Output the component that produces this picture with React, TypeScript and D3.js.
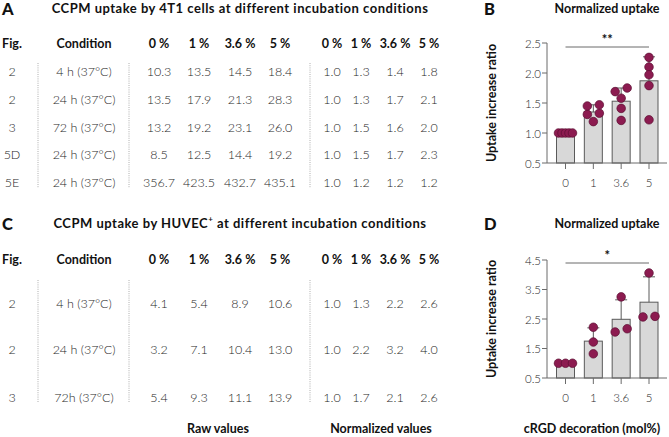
import React from "react";
import * as d3 from "d3";

// ---------- data ----------
const pctHeaders = ["0 %", "1 %", "3.6 %", "5 %"];

const tableAFig = ["2", "2", "3", "5D", "5E"];
const tableACond = ["4 h (37°C)", "24 h (37°C)", "72 h (37°C)", "24 h (37°C)", "24 h (37°C)"];
const tableARaw = [
  ["10.3", "13.5", "14.5", "18.4"],
  ["13.5", "17.9", "21.3", "28.3"],
  ["13.2", "19.2", "23.1", "26.0"],
  ["8.5", "12.5", "14.4", "19.2"],
  ["356.7", "423.5", "432.7", "435.1"],
];
const tableANorm = [
  ["1.0", "1.3", "1.4", "1.8"],
  ["1.0", "1.3", "1.7", "2.1"],
  ["1.0", "1.5", "1.6", "2.0"],
  ["1.0", "1.5", "1.7", "2.3"],
  ["1.0", "1.2", "1.2", "1.2"],
];

const tableCFig = ["2", "2", "3"];
const tableCCond = ["4 h (37°C)", "24 h (37°C)", "72h (37°C)"];
const tableCRaw = [
  ["4.1", "5.4", "8.9", "10.6"],
  ["3.2", "7.1", "10.4", "13.0"],
  ["5.4", "9.3", "11.1", "13.9"],
];
const tableCNorm = [
  ["1.0", "1.3", "2.2", "2.6"],
  ["1.0", "2.2", "3.2", "4.0"],
  ["1.0", "1.7", "2.1", "2.6"],
];

const categories = ["0", "1", "3.6", "5"];

const pointsB = [
  [1, 1, 1, 1, 1],
  [1.31, 1.33, 1.45, 1.47, 1.19],
  [1.41, 1.58, 1.75, 1.69, 1.21],
  [1.79, 2.1, 1.97, 2.26, 1.22],
];
const meansB = [1.0, 1.35, 1.53, 1.87];
const sdB = [0, 0.12, 0.22, 0.4];
const ticksB = [0.5, 1.0, 1.5, 2.0, 2.5];

const pointsD = [
  [1, 1, 1],
  [1.32, 2.22, 1.72],
  [2.17, 3.25, 2.06],
  [2.59, 4.06, 2.57],
];
const meansD = [1.0, 1.75, 2.49, 3.07];
const sdD = [0, 0.45, 0.66, 0.86];
const ticksD = [0.5, 1.5, 2.5, 3.5, 4.5];

// ---------- style ----------
const FONT = "Lato, 'Open Sans', sans-serif";
const TXT = "#1e1e1e";
const AXIS = "#6b6b6b";
const BAR_FILL = "#d8d8d8";
const BAR_STROKE = "#5a5a5a";
const DOT_FILL = "#8c1b50";
const DOT_STROKE = "#5c0e32";

// layout
const colFig = 12;
const colCond = 84;
const colRaw = [159, 199, 240, 280];
const colNorm = [332, 361, 395, 429];
const sepX = [38, 129, 310];

function Table({ headY, rowYs, figs, conds, raw, norm, sepTop, sepBottom }: any) {
  return (
    <g fontFamily={FONT}>
      <text x={colFig} y={headY} textAnchor="middle" fontWeight={700} fontSize={12.5} fill="#111" dominantBaseline="central">Fig.</text>
      <text x={colCond} y={headY} textAnchor="middle" fontWeight={700} fontSize={12.5} fill="#111" dominantBaseline="central">Condition</text>
      {pctHeaders.map((h, i) => (
        <text key={"r" + i} x={colRaw[i]} y={headY} textAnchor="middle" fontWeight={700} fontSize={12.5} fill="#111" dominantBaseline="central">{h}</text>
      ))}
      {pctHeaders.map((h, i) => (
        <text key={"n" + i} x={colNorm[i]} y={headY} textAnchor="middle" fontWeight={700} fontSize={12.5} fill="#111" dominantBaseline="central">{h}</text>
      ))}
      {sepX.map((x, i) => (
        <line key={i} x1={x} x2={x} y1={sepTop} y2={sepBottom} stroke="#9a9a9a" strokeWidth={0.8} strokeDasharray="1,1.2" />
      ))}
      {rowYs.map((y: number, r: number) => (
        <g key={r} fontSize={12.5} fill={TXT} fontWeight={300}>
          <text x={colFig} y={y} textAnchor="middle" dominantBaseline="central">{figs[r]}</text>
          <text x={colCond} y={y} textAnchor="middle" dominantBaseline="central">{conds[r]}</text>
          {raw[r].map((v: string, i: number) => (
            <text key={"r" + i} x={colRaw[i]} y={y} textAnchor="middle" dominantBaseline="central">{v}</text>
          ))}
          {norm[r].map((v: string, i: number) => (
            <text key={"n" + i} x={colNorm[i]} y={y} textAnchor="middle" dominantBaseline="central">{v}</text>
          ))}
        </g>
      ))}
    </g>
  );
}

function swarm(values: number[], y: (v: number) => number) {
  const idx = values.map((_, i) => i).sort((a, b) => values[a] - values[b]);
  const clusters: number[][] = [];
  idx.forEach((i) => {
    const last = clusters[clusters.length - 1];
    if (last && Math.abs(y(values[last[last.length - 1]]) - y(values[i])) < 6) last.push(i);
    else clusters.push([i]);
  });
  const off = new Array(values.length).fill(0);
  clusters.forEach((c) => {
    const n = c.length;
    const step = n > 1 ? Math.min(12, 14 / (n - 1)) : 0;
    c.forEach((i, k) => (off[i] = (k - (n - 1) / 2) * step));
  });
  return off;
}

function BarChart({ top, bottom, domain, ticks, points, means, sd, stars, sigY }: any) {
  const axisX = 547;
  const x = d3.scalePoint<string>().domain(categories).range([565.5, 649]);
  const y = d3.scaleLinear().domain(domain).range([bottom, top]);
  const bw = 18;
  const fmt = d3.format(".1f");
  return (
    <g fontFamily={FONT}>
      {categories.map((c, i) => (
        <rect key={c} x={x(c)! - bw / 2} y={y(means[i])} width={bw} height={bottom - y(means[i])} fill={BAR_FILL} stroke={BAR_STROKE} strokeWidth={1} />
      ))}
      {categories.map((c, i) =>
        sd[i] > 0 ? (
          <g key={"e" + c} stroke={BAR_STROKE} strokeWidth={1}>
            <line x1={x(c)} x2={x(c)} y1={y(means[i])} y2={y(means[i] + sd[i])} />
            <line x1={x(c)! - 6} x2={x(c)! + 6} y1={y(means[i] + sd[i])} y2={y(means[i] + sd[i])} />
          </g>
        ) : null
      )}
      <line x1={axisX} x2={axisX} y1={y(domain[1])} y2={bottom} stroke={AXIS} strokeWidth={1} />
      <line x1={axisX} x2={667} y1={bottom} y2={bottom} stroke={AXIS} strokeWidth={1} />
      {ticks.map((t: number) => (
        <g key={t}>
          <line x1={axisX - 5} x2={axisX} y1={y(t)} y2={y(t)} stroke={AXIS} strokeWidth={1} />
          <text x={axisX - 6} y={y(t)} textAnchor="end" dominantBaseline="central" fontSize={11.5} fill={TXT} fontWeight={300}>{fmt(t)}</text>
        </g>
      ))}
      {categories.map((c) => (
        <g key={"xt" + c}>
          <line x1={x(c)} x2={x(c)} y1={bottom} y2={bottom + 6} stroke={AXIS} strokeWidth={1} />
          <text x={x(c)} y={bottom + 19} textAnchor="middle" dominantBaseline="central" fontSize={11.5} fill={TXT} fontWeight={300}>{c}</text>
        </g>
      ))}
      {categories.map((c, i) => {
        const off = swarm(points[i], y);
        return points[i].map((v: number, k: number) => (
          <circle key={c + "p" + k} cx={x(c)! + off[k]} cy={y(v)} r={4.3} fill={DOT_FILL} stroke={DOT_STROKE} strokeWidth={0.7} />
        ));
      })}
      <line x1={x("0")} x2={x("5")} y1={sigY} y2={sigY} stroke={AXIS} strokeWidth={1} />
      <text x={(x("0")! + x("5")!) / 2} y={sigY - 3} textAnchor="middle" fontSize={13} fontWeight={700} fill="#111">{stars}</text>
      <text transform={`translate(491,${(top + bottom) / 2}) rotate(-90)`} textAnchor="middle" dominantBaseline="central" fontSize={12.5} fontWeight={700} fill="#111">Uptake increase ratio</text>
    </g>
  );
}

export default function App() {
  const title = { fontSize: 13, fontWeight: 700, fill: "#111", textAnchor: "middle", dominantBaseline: "central", letterSpacing: 0.5 } as any;
  const letter = { fontSize: 16.5, fontWeight: 900, fill: "#111" } as any;
  return (
    <svg width={669} height={437} style={{ position: "absolute", left: 0, top: 0, background: "#fff" }} fontFamily={FONT}>
      <rect width={669} height={437} fill="#fff" />
      <text x={2} y={15} {...letter}>A</text>
      <text x={240} y={8} {...title}>CCPM uptake by 4T1 cells at different incubation conditions</text>
      <text x={484} y={15} {...letter}>B</text>
      <text x={607} y={8} fontSize={12.5} fontWeight={700} fill="#111" textAnchor="middle" dominantBaseline="central">Normalized uptake</text>

      <text x={2} y={230} {...letter}>C</text>
      <text x={240} y={223} {...title}>
        CCPM uptake by HUVEC<tspan fontSize={8} dy={-4}>+</tspan><tspan dy={4}> at different incubation conditions</tspan>
      </text>
      <text x={484} y={230} {...letter}>D</text>
      <text x={607} y={223} fontSize={12.5} fontWeight={700} fill="#111" textAnchor="middle" dominantBaseline="central">Normalized uptake</text>

      <Table headY={43} rowYs={[71, 99, 127, 154, 182]} figs={tableAFig} conds={tableACond} raw={tableARaw} norm={tableANorm} sepTop={63} sepBottom={188} />
      <Table headY={259} rowYs={[303, 349, 397]} figs={tableCFig} conds={tableCCond} raw={tableCRaw} norm={tableCNorm} sepTop={280} sepBottom={403} />

      <text x={218} y={428} fontSize={12.5} fontWeight={700} fill="#111" textAnchor="middle" dominantBaseline="central">Raw values</text>
      <text x={381} y={428} fontSize={12.5} fontWeight={700} fill="#111" textAnchor="middle" dominantBaseline="central">Normalized values</text>
      <text x={592} y={428} fontSize={12.5} fontWeight={700} fill="#111" textAnchor="middle" dominantBaseline="central">cRGD decoration (mol%)</text>

      <BarChart top={43} bottom={163} domain={[0.5, 2.5]} ticks={ticksB} points={pointsB} means={meansB} sd={sdB} stars="**" sigY={47} />
      <BarChart top={260} bottom={378} domain={[0.5, 4.5]} ticks={ticksD} points={pointsD} means={meansD} sd={sdD} stars="*" sigY={263} />
    </svg>
  );
}
